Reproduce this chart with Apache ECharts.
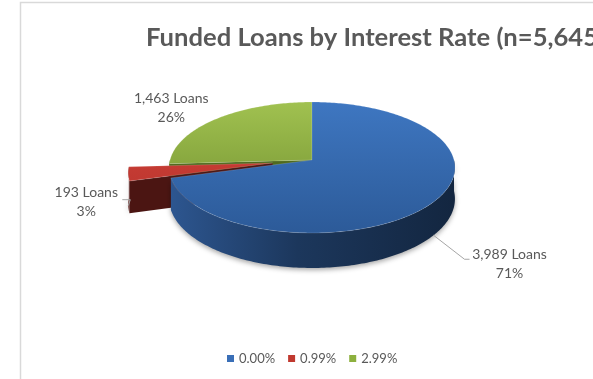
<!DOCTYPE html>
<html>
<head>
<meta charset="utf-8">
<script src="https://cdn.jsdelivr.net/npm/echarts@6/dist/echarts.min.js"></script>
<style>
  html, body { margin: 0; padding: 0; background: #ffffff; }
  #chart { width: 593px; height: 379px; }
</style>
</head>
<body>
<div id="chart"></div>
<script>
// Interest-rate buckets and the number of funded loans in each
const rates = ['0.00%', '0.99%', '2.99%'];
const loanCounts = [3989, 193, 1463];

// Colours for each slice: flat legend colour, top-face gradient, wall gradient, cut-face fill
const palette = [
  { base: '#3a6fb7', top: ['#3f78c3', '#2c5a98'], side: ['#2d5690', '#1c375c', '#132640'], cut: '#1c375c' },
  { base: '#c0392f', top: ['#d6463c', '#b3302a'], side: ['#5a1a16', '#4b1512', '#3c100d'], cut: '#4b1512' },
  { base: '#8db03e', top: ['#a3c452', '#6c8a2b'], side: ['#5d7a22', '#4e681c', '#3f5516'], cut: '#4f6a1e' }
];

// How far each slice is pulled out of the pie (fraction of the radius)
const explode = [0, 0.28, 0];

// Data-label placement relative to the slice's rim point, plus optional leader line
const labelLayout = [
  { rim: 'bottom', dx: 76, dy: 29, leader: { knee: [-45, -5], end: [-40, -5] } },
  { rim: 'bottom', dx: -42, dy: -4, leader: { knee: [44, -2], end: [36, -2] } },
  { rim: 'top', dx: -45, dy: -11, leader: null }
];

// Projection of the tilted disc onto the screen (simple perspective)
const disc = { cx: 312, cy: 160, R: 142, A: 64.6, T: 31, p: 0.1145 };

function project(u, v, h) {
  const s = 1 / (1 + disc.p * v);
  return [disc.cx + disc.R * u * s, disc.cy - disc.A * v * s + disc.T * h * s];
}

function fmtCount(n) {
  return String(n).replace(/\B(?=(\d{3})+(?!\d))/g, ',');
}

const total = loanCounts.reduce((a, b) => a + b, 0);

function sliceRenderer(i) {
  return function (params, api) {
    let before = 0;
    for (let k = 0; k < i; k++) before += loanCounts[k];
    const value = api.value(0);
    const a0 = before / total * Math.PI * 2;
    const a1 = (before + value) / total * Math.PI * 2;
    const mid = (a0 + a1) / 2;
    const e = explode[i];
    const eu = e * Math.sin(mid), ev = e * Math.cos(mid);
    const pt = (a, h) => project(Math.sin(a) + eu, Math.cos(a) + ev, h);
    const apex = (h) => project(eu, ev, h);
    const arc = (from, to, h) => {
      const n = Math.max(2, Math.ceil((to - from) / (Math.PI / 180)));
      const out = [];
      for (let j = 0; j <= n; j++) out.push(pt(from + (to - from) * j / n, h));
      return out;
    };
    const col = palette[i];
    const children = [];

    // outer wall, only the part facing the viewer
    const s0 = Math.max(a0, Math.PI / 2), s1 = Math.min(a1, Math.PI * 1.5);
    if (s1 > s0) {
      const pts = arc(s0, s1, 0).concat(arc(s0, s1, 1).reverse());
      children.push({
        type: 'polygon',
        shape: { points: pts },
        style: {
          fill: new echarts.graphic.LinearGradient(disc.cx - disc.R, 0, disc.cx + disc.R, 0, [
            { offset: 0, color: col.side[0] },
            { offset: 0.45, color: col.side[1] },
            { offset: 1, color: col.side[2] }
          ], true),
          shadowBlur: 5, shadowColor: 'rgba(0,0,0,0.35)', shadowOffsetY: 2
        }
      });
    }
    // radial cut faces that turn toward the viewer
    if (Math.sin(a0) < -1e-6) {
      children.push({
        type: 'polygon',
        shape: { points: [apex(0), pt(a0, 0), pt(a0, 1), apex(1)] },
        style: { fill: col.cut }
      });
    }
    if (Math.sin(a1) > 1e-6) {
      children.push({
        type: 'polygon',
        shape: { points: [apex(0), pt(a1, 0), pt(a1, 1), apex(1)] },
        style: { fill: col.cut }
      });
    }
    // top face
    children.push({
      type: 'polygon',
      shape: { points: [apex(0)].concat(arc(a0, a1, 0)) },
      style: {
        fill: new echarts.graphic.LinearGradient(0, disc.cy - disc.A, 0, disc.cy + disc.A + 10, [
          { offset: 0, color: col.top[0] },
          { offset: 1, color: col.top[1] }
        ], true),
        stroke: 'rgba(255,255,255,0.18)', lineWidth: 0.8
      }
    });

    // data label
    const lay = labelLayout[i];
    const anchor = pt(mid, lay.rim === 'bottom' ? 1 : 0);
    const lx = anchor[0] + lay.dx, ly = anchor[1] + lay.dy;
    if (lay.leader) {
      children.push({
        type: 'polyline',
        shape: { points: [anchor, [lx + lay.leader.knee[0], ly + lay.leader.knee[1]], [lx + lay.leader.end[0], ly + lay.leader.end[1]]] },
        style: { stroke: '#a6a6a6', lineWidth: 1, fill: null }
      });
    }
    const pct = Math.round(value / total * 100);
    children.push({
      type: 'text',
      x: lx, y: ly,
      style: {
        text: fmtCount(value) + ' Loans\n' + pct + '%',
        fill: '#595959',
        fontFamily: 'Lato',
        fontSize: 14,
        lineHeight: 19,
        align: 'center',
        verticalAlign: 'middle'
      }
    });

    return { type: 'group', children: children };
  };
}

const chart = echarts.init(document.getElementById('chart'), null, { renderer: 'canvas' });

// back-to-front drawing order: 2.99% (back), 0.99% (left), 0.00% (front)
const zOrder = [3, 2, 1];

chart.setOption({
  animation: false,
  backgroundColor: '#ffffff',
  title: {
    text: 'Funded Loans by Interest Rate (n=5,645)',
    left: 141,
    top: 20,
    textStyle: { fontFamily: 'Lato', fontWeight: 'bold', fontSize: 25.6, color: '#595959' }
  },
  legend: {
    data: rates,
    left: 222,
    top: 347,
    icon: 'rect',
    itemWidth: 7,
    itemHeight: 7,
    itemGap: 13,
    selectedMode: false,
    textStyle: { fontFamily: 'Lato', fontSize: 13, color: '#595959' }
  },
  graphic: [{
    type: 'rect',
    shape: { x: 20.5, y: 2.5, width: 700, height: 500 },
    style: { fill: null, stroke: '#d9d9d9', lineWidth: 1.5 },
    silent: true,
    z: -10
  }],
  series: rates.map((name, i) => ({
    type: 'custom',
    name: name,
    coordinateSystem: 'none',
    z: zOrder[i],
    silent: true,
    itemStyle: { color: palette[i].base },
    data: [[loanCounts[i]]],
    renderItem: sliceRenderer(i)
  }))
});
</script>
</body>
</html>
